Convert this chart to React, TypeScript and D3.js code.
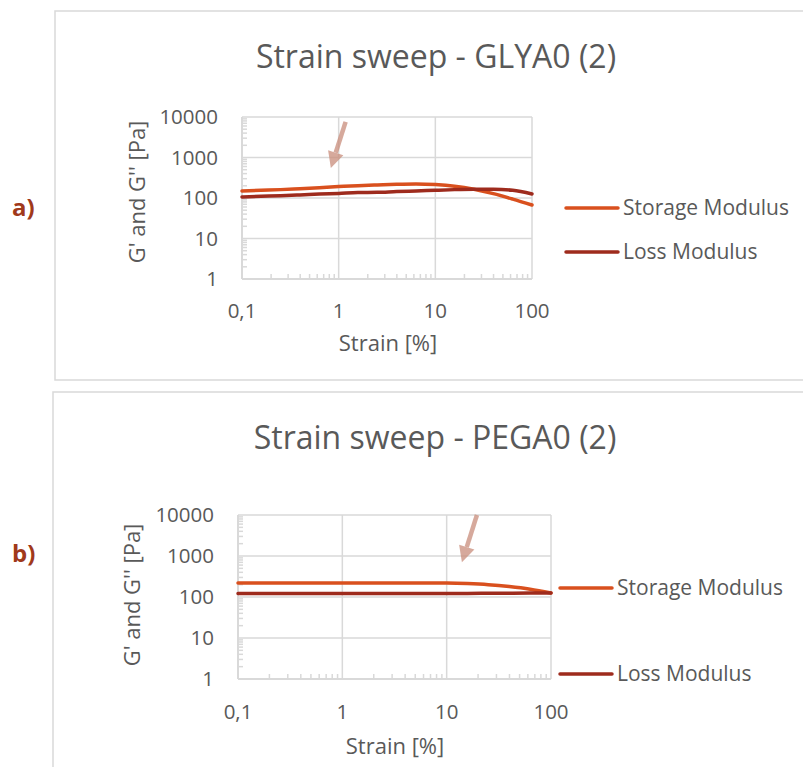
import React from "react";
import * as d3 from "d3";

// strain sweep readings (strain in %, moduli in Pa)
const strain = [0.1, 0.158, 0.251, 0.398, 0.631, 1, 1.58, 2.51, 3.98, 6.31, 10, 15.8, 25.1, 39.8, 63.1, 100];
const glyStorage = [149, 155, 161, 170, 180, 191, 202, 210, 218, 222, 214, 195, 164, 128, 94, 67];
const glyLoss = [106, 110, 114, 119, 125, 130, 136, 138, 144, 149, 155, 161, 164, 164, 155, 126];
const pegStorage = [221, 221, 221, 221, 221, 221, 221, 221, 220, 219, 218, 212, 200, 180, 155, 125];
const pegLoss = [121, 121, 121, 121, 121, 121, 121, 121, 121, 122, 122, 122, 123, 124, 125, 125];

const xTicks = [0.1, 1, 10, 100];
const xTickLabels = ["0,1", "1", "10", "100"];
const yTicks = [1, 10, 100, 1000, 10000];
const yTickLabels = ["1", "10", "100", "1000", "10000"];

const seriesNames = ["Storage Modulus", "Loss Modulus"];
const seriesColors = ["#d9501e", "#9e2b1d"];

// arrow annotations [tailStrain, tailG, tipStrain, tipG]
const glyArrow = [1.18, 7600, 0.83, 550];
const pegArrow = [19.5, 10000, 14, 700];

const FONT = "'Open Sans', sans-serif";
const TXT = "#595959";
const GRID = "#d9d9d9";

type Layout = {
  frameX: number; frameY: number; frameBottom: number | null;
  left: number; right: number; top: number; bottom: number;
  titleX: number; titleY: number;
  yLabelRight: number; xLabelY: number;
  xTitleX: number; xTitleY: number;
  yTitleX: number; yTitleY: number;
  legX0: number; legX1: number; legY: number[];
  tagY: number;
};

function Panel({ title, tag, storage, loss, arrow, L }: {
  title: string; tag: string; storage: number[]; loss: number[]; arrow: number[]; L: Layout;
}) {
  const x = d3.scaleLog().domain([0.1, 100]).range([L.left, L.right]);
  const y = d3.scaleLog().domain([1, 10000]).range([L.bottom, L.top]);
  const line = d3.line<number>()
    .x((_, i) => x(strain[i]))
    .y((d) => y(d))
    .curve(d3.curveMonotoneX);

  const minorX = x.ticks().filter((t) => !xTicks.includes(t));
  const minorY = y.ticks().filter((t) => !yTicks.includes(t));

  // arrow geometry
  const tx = x(arrow[0]), ty = y(arrow[1]), hx = x(arrow[2]), hy = y(arrow[3]);
  const len = Math.hypot(hx - tx, hy - ty);
  const ux = (hx - tx) / len, uy = (hy - ty) / len;
  const headL = 16, headW = 8;
  const bx = hx - ux * headL, by = hy - uy * headL;
  const head = `${hx},${hy} ${bx - uy * headW},${by + ux * headW} ${bx + uy * headW},${by - ux * headW}`;

  const series = [storage, loss];

  return (
    <g>
      {L.frameBottom !== null ? (
        <path d={`M820,${L.frameY}H${L.frameX}V${L.frameBottom}H820`} fill="none" stroke={GRID} strokeWidth={1.5} />
      ) : (
        <path d={`M820,${L.frameY}H${L.frameX}V800`} fill="none" stroke={GRID} strokeWidth={1.5} />
      )}
      <text x={12} y={L.tagY} dy="0.35em" fontFamily={FONT} fontWeight="bold" fontSize={24} fill="#a0391b">{tag}</text>
      <text x={L.titleX} y={L.titleY} dy="0.35em" textAnchor="middle" fontFamily={FONT} fontSize={32} fill={TXT}>{title}</text>

      {/* grid */}
      {yTicks.map((t) => (
        <line key={"gy" + t} x1={L.left} x2={L.right} y1={y(t)} y2={y(t)} stroke={GRID} strokeWidth={1.5} />
      ))}
      {xTicks.map((t) => (
        <line key={"gx" + t} x1={x(t)} x2={x(t)} y1={L.top} y2={L.bottom} stroke={GRID} strokeWidth={1.5} />
      ))}
      {/* minor ticks */}
      {minorX.map((t) => (
        <line key={"mx" + t} x1={x(t)} x2={x(t)} y1={L.bottom} y2={L.bottom - 5} stroke={GRID} strokeWidth={1.5} />
      ))}
      {minorY.map((t) => (
        <line key={"my" + t} x1={L.left} x2={L.left + 5} y1={y(t)} y2={y(t)} stroke={GRID} strokeWidth={1.5} />
      ))}
      <line x1={L.left} x2={L.left} y1={L.top} y2={L.bottom} stroke={GRID} strokeWidth={2} />
      <line x1={L.left} x2={L.right} y1={L.bottom} y2={L.bottom} stroke={GRID} strokeWidth={2} />

      {/* tick labels */}
      {yTicks.map((t, i) => (
        <text key={"ly" + t} x={L.yLabelRight} y={y(t)} dy="0.35em" textAnchor="end" fontFamily={FONT} fontSize={20.5} fill={TXT}>{yTickLabels[i]}</text>
      ))}
      {xTicks.map((t, i) => (
        <text key={"lx" + t} x={x(t)} y={L.xLabelY} dy="0.35em" textAnchor="middle" fontFamily={FONT} fontSize={20.5} fill={TXT}>{xTickLabels[i]}</text>
      ))}
      <text x={L.xTitleX} y={L.xTitleY} dy="0.35em" textAnchor="middle" fontFamily={FONT} fontSize={22} fill={TXT}>Strain [%]</text>
      <text transform={`translate(${L.yTitleX},${L.yTitleY}) rotate(-90)`} dy="0.35em" textAnchor="middle" fontFamily={FONT} fontSize={22} fill={TXT}>G' and G'' [Pa]</text>

      {/* series */}
      {series.map((s, i) => (
        <path key={"s" + i} d={line(s) || ""} fill="none" stroke={seriesColors[i]} strokeWidth={3.5} strokeLinecap="round" />
      ))}

      {/* arrow */}
      <g opacity={0.75}>
        <line x1={tx} y1={ty} x2={bx} y2={by} stroke="#c98d7b" strokeWidth={4.5} />
        <polygon points={head} fill="#c98d7b" />
      </g>

      {/* legend */}
      {seriesNames.map((n, i) => (
        <g key={"lg" + i}>
          <line x1={L.legX0} x2={L.legX1} y1={L.legY[i]} y2={L.legY[i]} stroke={seriesColors[i]} strokeWidth={3.5} strokeLinecap="round" />
          <text x={L.legX1 + 5} y={L.legY[i]} dy="0.35em" fontFamily={FONT} fontSize={21} fill={TXT}>{n}</text>
        </g>
      ))}
    </g>
  );
}

const topLayout: Layout = {
  frameX: 55, frameY: 11, frameBottom: 380,
  left: 242, right: 532, top: 117, bottom: 279,
  titleX: 436, titleY: 57,
  yLabelRight: 218, xLabelY: 311,
  xTitleX: 388, xTitleY: 343,
  yTitleX: 137, yTitleY: 192,
  legX0: 566, legX1: 618, legY: [208, 252],
  tagY: 208,
};

const bottomLayout: Layout = {
  frameX: 53, frameY: 392, frameBottom: null,
  left: 238, right: 551, top: 515, bottom: 679,
  titleX: 435, titleY: 438,
  yLabelRight: 214, xLabelY: 712,
  xTitleX: 395, xTitleY: 746,
  yTitleX: 132, yTitleY: 595,
  legX0: 560, legX1: 612, legY: [588, 674],
  tagY: 554,
};

export default function App() {
  return (
    <svg width={803} height={767} style={{ position: "absolute", left: 0, top: 0, background: "#fff" }}>
      <rect width={803} height={767} fill="#fff" />
      <Panel title="Strain sweep - GLYA0 (2)" tag="a)" storage={glyStorage} loss={glyLoss} arrow={glyArrow} L={topLayout} />
      <Panel title="Strain sweep - PEGA0 (2)" tag="b)" storage={pegStorage} loss={pegLoss} arrow={pegArrow} L={bottomLayout} />
    </svg>
  );
}
